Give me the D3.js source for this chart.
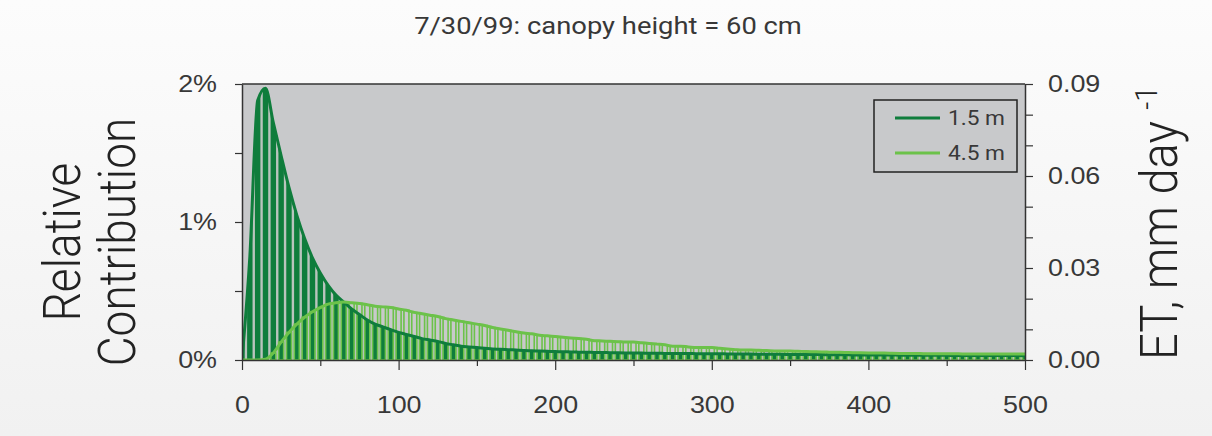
<!DOCTYPE html>
<html>
<head>
<meta charset="utf-8">
<script src="https://cdn.jsdelivr.net/npm/d3@7"></script>
<style>
  html, body { margin: 0; padding: 0; background: #f4f4f4; }
  svg { display: block; font-family: Roboto, "Liberation Sans", sans-serif; }
</style>
</head>
<body>
<svg id="chart" width="1212" height="436"></svg>
<script>
// distance from the sensor (m), one bar every 5 m
const distance = d3.range(0, 505, 5);

// relative contribution (%) per 5 m, sensor at 1.5 m
const contrib15 = [
  0, 0.75, 1.88, 1.97, 1.72, 1.48, 1.25, 1.05, 0.88, 0.74,
  0.63, 0.54, 0.47, 0.42, 0.37, 0.33, 0.29, 0.26, 0.24, 0.22,
  0.2, 0.185, 0.17, 0.155, 0.145, 0.135, 0.12, 0.11, 0.1, 0.095,
  0.09, 0.085, 0.08, 0.078, 0.075, 0.072, 0.069, 0.067, 0.065, 0.063,
  0.061, 0.06, 0.058, 0.057, 0.056, 0.055, 0.054, 0.053, 0.052, 0.051,
  0.05, 0.05, 0.049, 0.049, 0.048, 0.048, 0.047, 0.047, 0.046, 0.046,
  0.045, 0.045, 0.044, 0.044, 0.043, 0.043, 0.042, 0.042, 0.041, 0.041,
  0.04, 0.04, 0.04, 0.039, 0.039, 0.038, 0.038, 0.038, 0.037, 0.037,
  0.037, 0.036, 0.036, 0.036, 0.035, 0.035, 0.035, 0.034, 0.034, 0.034,
  0.034, 0.033, 0.033, 0.033, 0.033, 0.032, 0.032, 0.032, 0.032, 0.032,
  0.031
];

// relative contribution (%) per 5 m, sensor at 4.5 m
const contrib45 = [
  0, 0, 0, 0.005, 0.05, 0.13, 0.2, 0.26, 0.31, 0.35,
  0.38, 0.405, 0.415, 0.42, 0.415, 0.41, 0.4, 0.39, 0.385, 0.38,
  0.37, 0.36, 0.345, 0.335, 0.325, 0.315, 0.3, 0.29, 0.28, 0.27,
  0.26, 0.25, 0.235, 0.225, 0.215, 0.205, 0.195, 0.19, 0.18, 0.175,
  0.17, 0.165, 0.16, 0.155, 0.15, 0.14, 0.138, 0.135, 0.133, 0.13,
  0.13, 0.125, 0.12, 0.115, 0.11, 0.1, 0.1, 0.095, 0.09, 0.09,
  0.09, 0.085, 0.08, 0.075, 0.072, 0.072, 0.07, 0.068, 0.066, 0.065,
  0.065, 0.063, 0.062, 0.06, 0.058, 0.057, 0.056, 0.055, 0.053, 0.052,
  0.051, 0.05, 0.05, 0.049, 0.048, 0.047, 0.047, 0.046, 0.045, 0.045,
  0.045, 0.045, 0.044, 0.044, 0.044, 0.044, 0.043, 0.043, 0.043, 0.043,
  0.043
];

const xTicks = [0, 100, 200, 300, 400, 500];
const xMinorTicks = [50, 150, 250, 350, 450];
const leftTicks = [0, 0.5, 1, 1.5, 2];
const rightTicks = [0, 0.01, 0.02, 0.03, 0.04, 0.05, 0.06, 0.07, 0.08, 0.09];
const rightLabels = [0, 0.03, 0.06, 0.09];

const series = [
  { name: "1.5 m", values: contrib15, color: "#0f7d3c" },
  { name: "4.5 m", values: contrib45, color: "#6cc24a" },
];

const svg = d3.select("#chart");
const width = +svg.attr("width");
const height = +svg.attr("height");
const margin = { top: 84, right: 187, bottom: 76, left: 242 };
const textColor = "#383838";
const plotBg = "#c8c9cb";
const stretch = 1.12; // the source lettering is a little wide

const x = d3
  .scaleLinear()
  .domain([0, 500])
  .range([margin.left, width - margin.right]);

const y = d3
  .scaleLinear()
  .domain([0, 2])
  .range([height - margin.bottom, margin.top]);

const yRight = d3
  .scaleLinear()
  .domain([0, 0.09])
  .range([height - margin.bottom, margin.top]);

const line = d3
  .line()
  .x((d, i) => x(distance[i]))
  .y((d) => y(d))
  .curve(d3.curveMonotoneX);

const area = d3
  .area()
  .x((d, i) => x(distance[i]))
  .y0(y(0))
  .y1((d) => y(d))
  .curve(d3.curveMonotoneX);

// background
const defs = svg.append("defs");
const grad = defs
  .append("linearGradient")
  .attr("id", "bg")
  .attr("x1", 0)
  .attr("y1", 0)
  .attr("x2", 0)
  .attr("y2", 1);
grad.append("stop").attr("offset", 0).attr("stop-color", "#fcfcfc");
grad.append("stop").attr("offset", 1).attr("stop-color", "#f1f1f1");

svg
  .append("rect")
  .attr("width", width)
  .attr("height", height)
  .attr("fill", "url(#bg)");

defs
  .append("clipPath")
  .attr("id", "plot-clip")
  .append("rect")
  .attr("x", margin.left)
  .attr("y", margin.top)
  .attr("width", width - margin.left - margin.right)
  .attr("height", height - margin.top - margin.bottom);

defs
  .append("clipPath")
  .attr("id", "area-clip")
  .append("path")
  .attr("d", area(contrib15));

// plot area
svg
  .append("rect")
  .attr("x", margin.left)
  .attr("y", margin.top)
  .attr("width", width - margin.left - margin.right)
  .attr("height", height - margin.top - margin.bottom)
  .attr("fill", plotBg);

const plot = svg.append("g").attr("clip-path", "url(#plot-clip)");
const barWidth = 5;

// 1.5 m: filled columns under the curve
plot
  .append("path")
  .attr("fill", series[0].color)
  .attr("d", area(contrib15));

plot
  .append("g")
  .attr("clip-path", "url(#area-clip)")
  .selectAll("line")
  .data(distance.slice(0, -1))
  .enter()
  .append("line")
  .attr("x1", (d) => x(d + 2.5))
  .attr("x2", (d) => x(d + 2.5))
  .attr("y1", y(0))
  .attr("y2", y(2))
  .attr("stroke", "#b9c4bd")
  .attr("stroke-width", 2.4);

// 4.5 m: outlined columns
plot
  .append("g")
  .selectAll("rect")
  .data(contrib45)
  .enter()
  .append("rect")
  .attr("x", (d, i) => x(distance[i]) - barWidth / 2)
  .attr("y", (d) => y(d))
  .attr("width", barWidth)
  .attr("height", (d) => y(0) - y(d))
  .attr("fill", "none")
  .attr("stroke", series[1].color)
  .attr("stroke-width", 1.6);

// lines
series.forEach((s) => {
  plot
    .append("path")
    .attr("fill", "none")
    .attr("stroke", s.color)
    .attr("stroke-width", 3)
    .attr("stroke-linejoin", "round")
    .attr("d", line(s.values));
});

// frame top
svg
  .append("line")
  .attr("x1", margin.left)
  .attr("x2", width - margin.right)
  .attr("y1", margin.top)
  .attr("y2", margin.top)
  .attr("stroke", "#333")
  .attr("stroke-width", 1.5);

const styleAxis = (g) => {
  g.select(".domain").attr("stroke", "#333").attr("stroke-width", 1.5);
  g.selectAll(".tick line").attr("stroke", "#333").attr("stroke-width", 1.2);
  g.selectAll(".tick text")
    .attr("fill", textColor)
    .style("font-size", "24px");
};

// widen tick text around its own anchor
const widen = (g) => {
  g.selectAll(".tick text").each(function () {
    const t = d3.select(this);
    const tx = +t.attr("x") || 0;
    t.attr("x", 0).attr("transform", `translate(${tx},0) scale(${stretch},1)`);
  });
};

// x-axis
svg
  .append("g")
  .attr("transform", `translate(0, ${height - margin.bottom})`)
  .call(d3.axisBottom(x).tickValues(xMinorTicks).tickSize(6).tickFormat(""))
  .call((g) => g.select(".domain").remove())
  .call((g) => g.selectAll(".tick line").attr("stroke", "#333").attr("stroke-width", 1.2));

svg
  .append("g")
  .attr("transform", `translate(0, ${height - margin.bottom})`)
  .call(d3.axisBottom(x).tickValues(xTicks).tickSize(10).tickSizeOuter(0).tickPadding(26))
  .call(styleAxis)
  .call(widen);

// left y-axis
svg
  .append("g")
  .attr("transform", `translate(${margin.left}, 0)`)
  .call(
    d3
      .axisLeft(y)
      .tickValues(leftTicks)
      .tickSize(7)
      .tickSizeOuter(0)
      .tickPadding(18)
      .tickFormat((d) => (Number.isInteger(d) ? d + "%" : ""))
  )
  .call(styleAxis)
  .call(widen);

// right y-axis
svg
  .append("g")
  .attr("transform", `translate(${width - margin.right}, 0)`)
  .call(
    d3
      .axisRight(yRight)
      .tickValues(rightTicks)
      .tickSize(8)
      .tickSizeOuter(0)
      .tickPadding(15)
      .tickFormat((d) =>
        rightLabels.some((v) => Math.abs(v - d) < 1e-9) ? d.toFixed(2) : ""
      )
  )
  .call(styleAxis)
  .call(widen);

// title
svg
  .append("text")
  .attr("transform", `translate(608, 34) scale(1.19,1)`)
  .attr("text-anchor", "middle")
  .attr("fill", textColor)
  .style("font-size", "23px")
  .text("7/30/99: canopy height = 60 cm");

// left axis title
[
  ["Relative", 80],
  ["Contribution", 135],
].forEach(([label, bx]) => {
  svg
    .append("text")
    .attr("transform", `translate(${bx}, 242) scale(1.12,1) rotate(-90)`)
    .attr("text-anchor", "middle")
    .attr("fill", "#222")
    .style("font-size", "46px")
    .style("font-weight", 300)
    .text(label);
});

// right axis title
const rt = svg
  .append("text")
  .attr("transform", `translate(1177, 360) scale(1.1,1) rotate(-90)`)
  .attr("text-anchor", "start")
  .attr("fill", "#222")
  .style("font-size", "47px")
  .style("font-weight", 300);
rt.append("tspan").text("ET, mm day ");
rt.append("tspan").attr("dy", -18).style("font-size", "28px").text("-1");

// legend
const legend = svg.append("g").attr("transform", "translate(874, 100)");
legend
  .append("rect")
  .attr("width", 143)
  .attr("height", 72)
  .attr("fill", "none")
  .attr("stroke", "#222")
  .attr("stroke-width", 1.5);

series.forEach((s, i) => {
  const row = legend.append("g").attr("transform", `translate(0, ${18 + i * 35})`);
  row
    .append("line")
    .attr("x1", 21)
    .attr("x2", 66)
    .attr("stroke", s.color)
    .attr("stroke-width", 3);
  row
    .append("text")
    .attr("transform", `translate(74,0) scale(1.08,1)`)
    .attr("dy", "0.35em")
    .attr("fill", textColor)
    .style("font-size", "21px")
    .text(s.name);
});
</script>
</body>
</html>
